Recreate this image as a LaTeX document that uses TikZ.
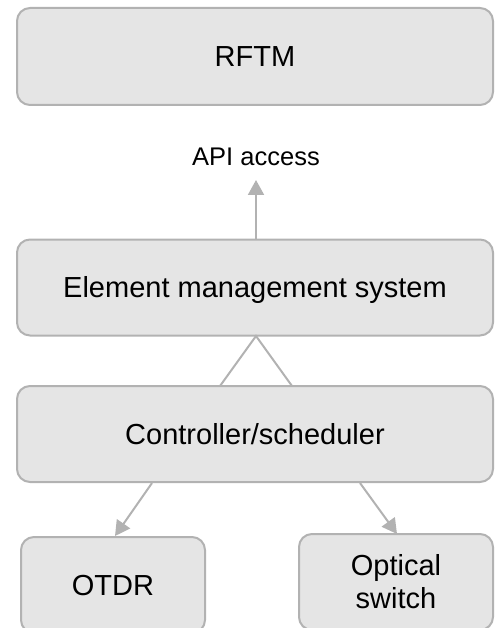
\documentclass[tikz,border=0pt]{standalone}
\usepackage{fontspec}
\setmainfont{Liberation Sans}
\usetikzlibrary{arrows.meta}
\definecolor{boxfill}{HTML}{E5E5E5}
\definecolor{boxline}{HTML}{B2B2B2}
\tikzset{
  box/.style={draw=boxline, fill=boxfill, line width=2pt, rounded corners=13pt,
    inner sep=0pt, font=\fontsize{29}{33}\selectfont, text=black, align=center},
  oneline/.style={text height=20.8pt, text depth=0pt},
  conn/.style={draw=boxline, line width=2pt},
  arr/.style={conn, -{Triangle[length=15pt,width=16pt]}}
}
\begin{document}
\begin{tikzpicture}[x=1pt,y=-1pt]
\useasboundingbox (0,0) rectangle (496,628);
\clip (0,0) rectangle (496,628);
\node[box, oneline, minimum width=476pt, minimum height=97pt] (rftm) at (255,56.5) {RFTM};
\node[font=\fontsize{25.5}{30}\selectfont] (api) at (256,157) {API access};
\node[box, oneline, minimum width=476pt, minimum height=96pt] (ems) at (255,287.5) {Element management system};
\node[box, oneline, minimum width=476pt, minimum height=96pt] (ctrl) at (255,434) {Controller/scheduler};
\node[box, oneline, minimum width=184pt, minimum height=96pt] (otdr) at (113,585) {OTDR};
\node[box, minimum width=194pt, minimum height=96pt] (osw) at (396,582) {Optical\\switch};
% API arrow
\coordinate (apitip) at (256,180);
\draw[arr] (256,239) coordinate (emstop) -- (apitip);
% triangle
\coordinate (apex) at (256,336);
\coordinate (bl) at (220,386);
\coordinate (br) at (292,386);
\draw[conn, line join=miter] (bl) -- (apex) -- (br);
% arrows to devices
\coordinate (l0) at (152,483);
\coordinate (l1) at (115,536);
\coordinate (r0) at (360,483);
\coordinate (r1) at (397,534);
\draw[arr] (l0) -- (l1);
\draw[arr] (r0) -- (r1);
\end{tikzpicture}
\end{document}
